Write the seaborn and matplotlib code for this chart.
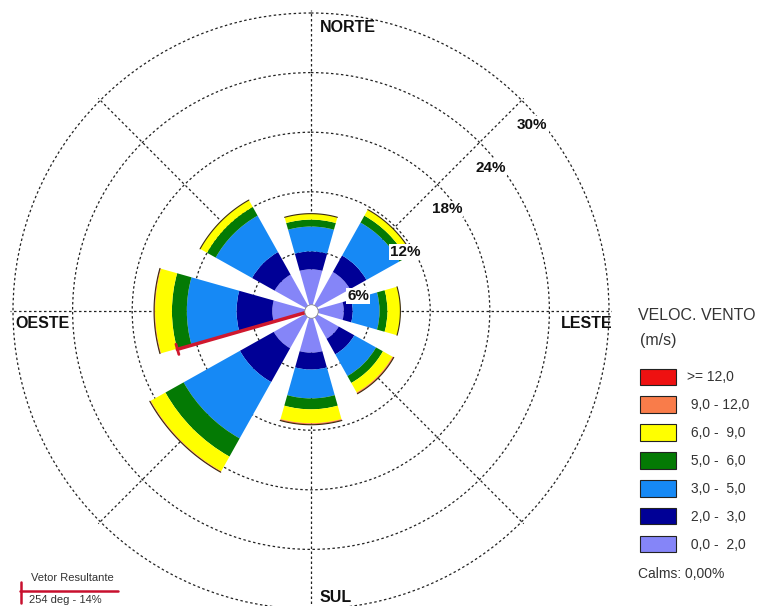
import numpy as np
import seaborn as sns
import matplotlib.pyplot as plt
from matplotlib.patches import Patch
from matplotlib.lines import Line2D

sns.set_style('white')
plt.rcParams['font.family'] = ['Liberation Sans', 'DejaVu Sans']

# wind directions (compass degrees) and frequency (%) per speed class
directions = ['N', 'NE', 'E', 'SE', 'S', 'SW', 'W', 'NW']
dir_degrees = [0, 45, 90, 135, 180, 225, 270, 315]

speed_labels = ['0,0 -  2,0', '2,0 -  3,0', '3,0 -  5,0', '5,0 -  6,0',
                '6,0 -  9,0', '9,0 - 12,0', '>= 12,0']
speed_colors = ['#8585f8', '#000096', '#1689f5', '#047a04', '#ffff00',
                '#f97c4a', '#ee1111']

freq_0_2 = [4.2, 4.5, 3.3, 3.2, 4.2, 4.3, 3.9, 4.2]
freq_2_3 = [1.8, 1.9, 0.9, 1.8, 1.7, 3.9, 3.6, 2.6]
freq_3_5 = [2.5, 3.8, 2.7, 2.5, 2.9, 6.5, 5.0, 4.2]
freq_5_6 = [0.7, 0.8, 0.8, 0.8, 1.1, 2.1, 1.5, 1.0]
freq_6_9 = [0.6, 0.7, 1.3, 1.1, 1.4, 1.7, 1.7, 0.8]
freq_9_12 = [0.0, 0.0, 0.0, 0.15, 0.15, 0.1, 0.1, 0.0]
freq_12 = [0.0, 0.0, 0.0, 0.0, 0.0, 0.0, 0.0, 0.0]

ring_values = [6, 12, 18, 24, 30]
ring_labels = ['6%', '12%', '18%', '24%', '30%']
ring_label_deg = [72.3, 57.9, 53.1, 51.4, 49.9]
ring_label_r = [4.97, 11.2, 17.1, 23.1, 29.1]

resultant_deg = 254
resultant_pct = 14

W, H = 760, 606
fig = plt.figure(figsize=(W / 100, H / 100), dpi=100)
rmax = 30.3
cx, cy, rad = 311, 311, 298 * rmax / 30
ax = fig.add_axes([(cx - rad) / W, (H - cy - rad) / H, 2 * rad / W, 2 * rad / H],
                  projection='polar')
ax.set_theta_zero_location('N')
ax.set_theta_direction(-1)

theta = np.deg2rad(dir_degrees)
width = np.deg2rad(31.5)
bottom = np.zeros(len(directions))
series = [freq_0_2, freq_2_3, freq_3_5, freq_5_6, freq_6_9, freq_9_12, freq_12]
for vals, color in zip(series, speed_colors):
    ax.bar(theta, vals, width=width, bottom=bottom, color=color,
           edgecolor='none', zorder=2, align='center')
    bottom += np.array(vals)

# thin dark edge on the outside of each petal
for t, tot in zip(theta, bottom):
    tt = np.linspace(t - width / 2, t + width / 2, 40)
    ax.plot(tt, np.full_like(tt, tot), color='#3a2a10', lw=0.8, zorder=3)

ax.set_ylim(0, rmax)
ax.set_rgrids(ring_values, labels=[])
ax.set_thetagrids(range(0, 360, 45), labels=[])
ax.grid(True, color='#222222', linestyle=(0, (2, 2)), lw=0.9)
ax.set_axisbelow(True)
ax.spines['polar'].set_visible(False)

for lab, d, r in zip(ring_labels, ring_label_deg, ring_label_r):
    ax.text(np.deg2rad(d), r, lab, fontsize=11, fontweight='bold', ha='center',
            va='center', color='#111111', zorder=6,
            bbox=dict(facecolor='white', edgecolor='none', pad=1))

# resultant vector
tr = np.deg2rad(resultant_deg)
ax.plot([tr, tr], [0, resultant_pct], color='#d0182e', lw=2.5, zorder=4)
ax.plot(np.deg2rad([resultant_deg - 2.2, resultant_deg + 2.2]),
        [resultant_pct, resultant_pct], color='#d0182e', lw=2, zorder=4)

ax.scatter([0], [0], s=95, c='white', edgecolors='#888888', linewidths=0.6, zorder=5)

# compass labels
for txt, x, y, ha in [('NORTE', 320, 27, 'left'), ('LESTE', 612, 324, 'right'),
                      ('SUL', 320, 597, 'left'), ('OESTE', 15, 324, 'left')]:
    fig.text(x / W, 1 - y / H, txt, fontsize=11.5, fontweight='bold', ha=ha,
             va='center', color='#111111')

# legend
fig.text(638 / W, 1 - 316 / H, 'VELOC. VENTO', fontsize=11.5, color='#333333',
         va='center')
fig.text(640 / W, 1 - 340 / H, '(m/s)', fontsize=11.5, color='#333333',
         va='center')
handles = [Patch(facecolor=c, edgecolor='#222222', lw=0.8)
           for c in speed_colors[::-1]]
labels = [(' ' if not l.startswith('>') else '') + l for l in speed_labels[::-1]]
leg = fig.legend(handles, labels, loc='upper left',
                 bbox_to_anchor=(627 / W, 1 - 356 / H), frameon=False,
                 fontsize=10, handlelength=2.6, handleheight=1.45,
                 labelspacing=0.82, handletextpad=0.85)
for t in leg.get_texts():
    t.set_color('#333333')
fig.text(638 / W, 1 - 574 / H, 'Calms: 0,00%', fontsize=10, color='#333333',
         va='center')

# resultant vector key
fig.text(31 / W, 1 - 578 / H, 'Vetor Resultante', fontsize=8, color='#333333',
         va='center')
fig.text(29 / W, 1 - 600 / H, '254 deg - 14%', fontsize=8, color='#333333',
         va='center')
fig.add_artist(Line2D([20 / W, 118 / W], [1 - 591 / H, 1 - 591 / H],
                      color='#c8102e', lw=1.8))
fig.add_artist(Line2D([21 / W, 21 / W], [1 - 582 / H, 1 - 603 / H],
                      color='#c8102e', lw=1.8))

fig.savefig('out.png', dpi=100)
